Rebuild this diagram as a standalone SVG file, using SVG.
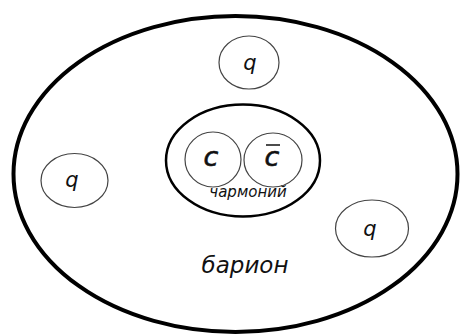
<svg xmlns="http://www.w3.org/2000/svg" width="460" height="336" viewBox="0 0 460 336">
<style>
.thin{fill:none;stroke:#444;stroke-width:1.2}
.lbl{font-family:"DejaVu Sans",sans-serif;font-style:italic;fill:#111;text-anchor:middle}
.cq{stroke:#111;stroke-width:0.6}
</style>
<rect width="460" height="336" fill="#fff"/>
<g id="baryon">
<ellipse cx="235.5" cy="174" rx="222" ry="158" fill="none" stroke="#000" stroke-width="4"/>
<text class="lbl" x="245" y="273" font-size="23">барион</text>
</g>
<g id="q-top">
<ellipse class="thin" cx="249" cy="62.5" rx="30" ry="26.5"/>
<text class="lbl" x="250" y="70" font-size="21">q</text>
</g>
<g id="q-left">
<ellipse class="thin" cx="74.5" cy="180.5" rx="33.5" ry="27"/>
<text class="lbl" x="72" y="187" font-size="21">q</text>
</g>
<g id="q-right">
<ellipse class="thin" cx="372" cy="228.5" rx="36.5" ry="28.5"/>
<text class="lbl" x="370" y="236" font-size="21">q</text>
</g>
<g id="charmonium">
<ellipse cx="243" cy="160.5" rx="77" ry="56" fill="none" stroke="#000" stroke-width="2.5"/>
<text class="lbl" x="248" y="197" font-size="15">чармоний</text>
</g>
<g id="c">
<ellipse class="thin" cx="213" cy="159.5" rx="28" ry="27.5"/>
<text class="lbl cq" x="211" y="166" font-size="27">c</text>
</g>
<g id="cbar">
<ellipse class="thin" cx="273" cy="160" rx="29" ry="27"/>
<text class="lbl cq" x="272" y="166" font-size="27">c</text>
<line x1="266" y1="145" x2="280" y2="145" stroke="#111" stroke-width="1.5"/>
</g>
<g id="connectors"/>
</svg>
